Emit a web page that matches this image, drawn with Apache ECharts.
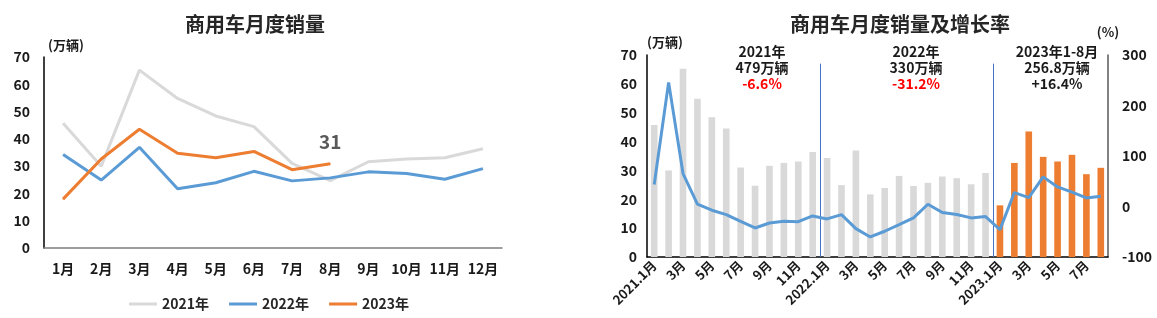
<!DOCTYPE html>
<html><head><meta charset="utf-8">
<script src="https://cdn.jsdelivr.net/npm/echarts@6/dist/echarts.min.js"></script>
<style>html,body{margin:0;padding:0;background:#fff}#c{width:1157px;height:318px}</style>
</head><body><div id="c"></div>
<script>
const months = ['1月','2月','3月','4月','5月','6月','7月','8月','9月','10月','11月','12月'];
const sales2021 = [45.7, 30.0, 65.2, 54.8, 48.4, 44.5, 31.0, 24.7, 31.6, 32.6, 33.1, 36.4];
const sales2022 = [34.3, 24.9, 36.9, 21.7, 23.9, 28.1, 24.6, 25.7, 27.9, 27.3, 25.2, 29.1];
const sales2023 = [17.9, 32.6, 43.5, 34.7, 33.1, 35.4, 28.7, 30.9];
const growth = [43.5, 245.8, 65.3, 4.5, -7.4, -16, -29.3, -42.5, -32.6, -29.3, -30, -18.7,
                -24.6, -16, -43.8, -60.3, -49, -36, -22.6, 4.5, -12, -16, -22.6, -20,
                -45.8, 27.6, 17.7, 58.7, 38.8, 28.3, 17, 20.3];
const periodCats = ['2021.1月','2月','3月','4月','5月','6月','7月','8月','9月','10月','11月','12月',
                    '2022.1月','2月','3月','4月','5月','6月','7月','8月','9月','10月','11月','12月',
                    '2023.1月','2月','3月','4月','5月','6月','7月','8月'];
const yearBreaks = [12, 24];
const notes = [
  {year:'2021年', total:'479万辆', rate:'-6.6%'},
  {year:'2022年', total:'330万辆', rate:'-31.2%'},
  {year:'2023年1-8月', total:'256.8万辆', rate:'+16.4%'}
];

const FONT = '"Noto Sans CJK SC", "Noto Sans", sans-serif';
const GRAY = '#d9d9d9', BLUE = '#5b9bd5', ORANGE = '#ed7d31';
const allSales = sales2021.concat(sales2022, sales2023);
const barData = allSales.map((v, i) => ({value: v, itemStyle: {color: i >= 24 ? ORANGE : GRAY}}));
const lbl = {fontFamily: FONT, fontWeight: 'bold', fontSize: 14, color: '#1a1a1a'};

const chart = echarts.init(document.getElementById('c'));
chart.setOption({
  animation: false,
  textStyle: {fontFamily: FONT},
  title: [
    {text: '商用车月度销量', left: 250, textAlign: 'center', top: 9,
     textStyle: {fontFamily: FONT, fontWeight: 'bold', fontSize: 20, color: '#262626'}},
    {text: '商用车月度销量及增长率', left: 895, textAlign: 'center', top: 9,
     textStyle: {fontFamily: FONT, fontWeight: 'bold', fontSize: 20, color: '#262626'}}
  ],
  legend: {
    data: ['2021年','2022年','2023年'], left: 124, top: 292, icon: 'rect',
    itemWidth: 28, itemHeight: 3, itemGap: 20,
    textStyle: {fontFamily: FONT, fontWeight: 'bold', fontSize: 14, color: '#262626'}
  },
  grid: [
    {left: 44, right: 655, top: 57, bottom: 70},
    {left: 647, right: 49, top: 55, bottom: 61}
  ],
  xAxis: [
    {type: 'category', gridIndex: 0, data: months, boundaryGap: true,
     axisLine: {lineStyle: {color: '#7f7f7f', width: 1.5}}, axisTick: {show: false},
     axisLabel: Object.assign({margin: 14, interval: 0}, lbl)},
    {type: 'category', gridIndex: 1, data: periodCats, boundaryGap: true,
     axisLine: {lineStyle: {color: '#000', width: 1.5}}, axisTick: {show: false},
     axisLabel: Object.assign({margin: 6, interval: 1, rotate: 45}, lbl, {fontSize: 13})},
    {type: 'value', gridIndex: 1, min: 0, max: periodCats.length, show: false}
  ],
  yAxis: [
    {type: 'value', gridIndex: 0, min: 0, max: 70, interval: 10,
     name: '(万辆)', nameLocation: 'end', nameGap: 5,
     nameTextStyle: {fontFamily: FONT, fontWeight: 'bold', fontSize: 13, color: '#1a1a1a', align: 'left', padding: [0,0,0,4]},
     axisLine: {show: true, lineStyle: {color: '#000', width: 1.5}}, axisTick: {show: false},
     splitLine: {show: false}, axisLabel: Object.assign({margin: 14}, lbl)},
    {type: 'value', gridIndex: 1, min: 0, max: 70, interval: 10,
     name: '(万辆)', nameLocation: 'end', nameGap: 6,
     nameTextStyle: {fontFamily: FONT, fontWeight: 'bold', fontSize: 13, color: '#1a1a1a', align: 'left', padding: [0,0,0,0]},
     axisLine: {show: true, lineStyle: {color: '#000', width: 1.5}}, axisTick: {show: false},
     splitLine: {show: false}, axisLabel: Object.assign({margin: 10}, lbl)},
    {type: 'value', gridIndex: 1, min: -100, max: 300, interval: 100, position: 'right',
     name: '(%)', nameLocation: 'end', nameGap: 16,
     nameTextStyle: {fontFamily: FONT, fontWeight: 'bold', fontSize: 13, color: '#1a1a1a', align: 'center', padding: [0,0,0,0]},
     axisLine: {show: true, lineStyle: {color: '#595959', width: 1.5}}, axisTick: {show: false},
     splitLine: {show: false}, axisLabel: Object.assign({margin: 14}, lbl)}
  ],
  series: [
    {name: '2021年', type: 'line', xAxisIndex: 0, yAxisIndex: 0, data: sales2021,
     symbol: 'none', lineStyle: {color: GRAY, width: 3}, itemStyle: {color: GRAY}, z: 2},
    {name: '2022年', type: 'line', xAxisIndex: 0, yAxisIndex: 0, data: sales2022,
     symbol: 'none', lineStyle: {color: BLUE, width: 3}, itemStyle: {color: BLUE}, z: 3},
    {name: '2023年', type: 'line', xAxisIndex: 0, yAxisIndex: 0, data: sales2023,
     symbol: 'circle', symbolSize: 1, showSymbol: true,
     lineStyle: {color: ORANGE, width: 3}, itemStyle: {color: ORANGE}, z: 4,
     label: {show: true, position: 'top', distance: 12,
       formatter: p => p.dataIndex === sales2023.length - 1 ? String(Math.round(p.value)) : '',
       fontFamily: FONT, fontWeight: 'bold', fontSize: 19, color: '#595959'}},
    {name: 'sales', type: 'bar', xAxisIndex: 1, yAxisIndex: 1, data: barData, barWidth: '46%'},
    {name: 'growth', type: 'line', xAxisIndex: 1, yAxisIndex: 2, data: growth,
     symbol: 'none', lineStyle: {color: BLUE, width: 3}, itemStyle: {color: BLUE}, z: 5},
    {name: 'breaks', type: 'line', xAxisIndex: 2, yAxisIndex: 1, data: [], silent: true,
     markLine: {symbol: 'none', silent: true, label: {show: false},
       lineStyle: {color: '#4472c4', width: 1, type: 'solid'},
       data: yearBreaks.map(b => [{coord: [b, 0]}, {coord: [b, 67]}])}}
  ],
  graphic: notes.map((n, i) => ({
    type: 'text', x: [762, 916, 1057][i], y: 44,
    style: {
      text: n.year + '\n' + n.total + '\n{r|' + n.rate + '}',
      align: 'center', verticalAlign: 'top', lineHeight: 16,
      font: 'bold 14px ' + FONT, fill: '#1a1a1a',
      rich: {r: {fill: i < 2 ? '#ff0000' : '#1a1a1a', font: 'bold 14px ' + FONT, lineHeight: 16}}
    }
  }))
});
</script></body></html>
